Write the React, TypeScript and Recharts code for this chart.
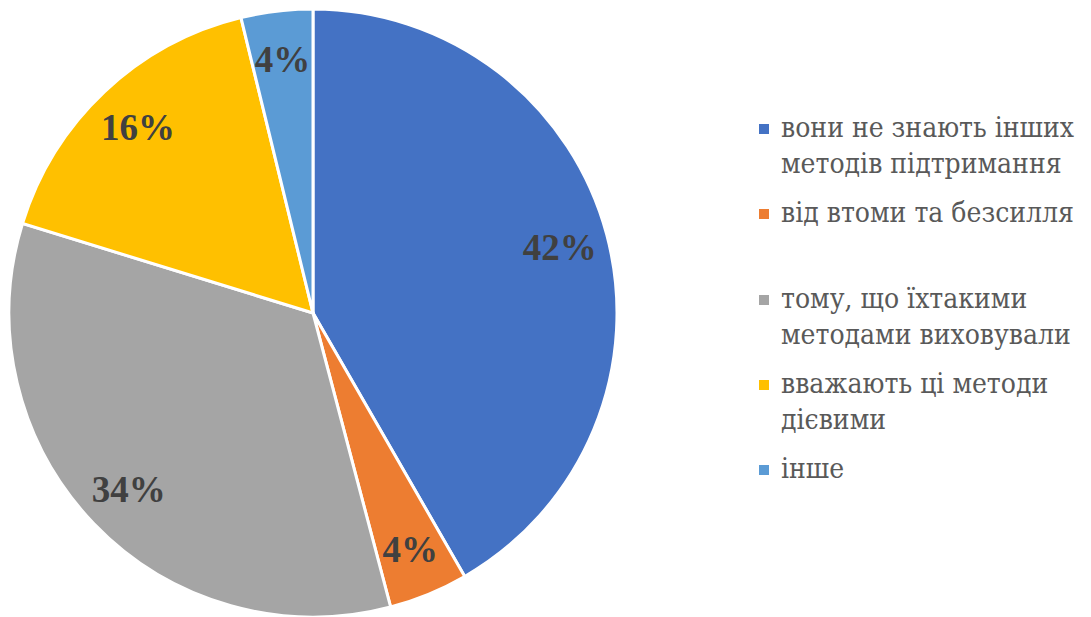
import { PieChart, Pie, Cell, Legend } from "recharts"

const reasons = [
    "вони не знають інших методів підтримання",
    "від втоми та безсилля",
    "тому, що їхтакими методами виховували",
    "вважають ці методи дієвими",
    "інше",
]
const shares = [41.6, 4.2, 33.8, 16.4, 3.8]
const colors = ["#4472C4", "#ED7D31", "#A5A5A5", "#FFC000", "#5B9BD5"]

const data = reasons.map((name, i) => ({ name, value: shares[i] }))

const RADIAN = Math.PI / 180
const serif = "'DejaVu Serif Condensed', 'DejaVu Serif', serif"

function renderLabel(props: any) {
    const { cx, cy, midAngle, outerRadius, percent } = props
    const r = outerRadius * 0.84
    const x = cx + r * Math.cos(-midAngle * RADIAN)
    const y = cy + r * Math.sin(-midAngle * RADIAN)
    return (
        <text
            x={x}
            y={y}
            fill="#404040"
            textAnchor="middle"
            dominantBaseline="central"
            style={{ fontFamily: "'Liberation Serif', serif", fontSize: 37, fontWeight: 700 }}
        >
            {Math.round(percent * 100)}%
        </text>
    )
}

function LegendList() {
    return (
        <div style={{ fontFamily: serif, fontStretch: "condensed", fontSize: 28, color: "#595959", lineHeight: "36px" }}>
            {data.map((d, i) => (
                <div
                    key={d.name}
                    style={{
                        display: "flex",
                        alignItems: "flex-start",
                        marginBottom: i === 1 ? 50 : 13,
                    }}
                >
                    <span
                        style={{
                            width: 10,
                            height: 10,
                            background: colors[i],
                            marginTop: 14,
                            marginRight: 12,
                            flexShrink: 0,
                        }}
                    />
                    <span style={{ width: 310 }}>{d.name}</span>
                </div>
            ))}
        </div>
    )
}

export default function App() {
    return (
        <div style={{ position: "absolute", left: 0, top: 0, width: 1091, height: 617, background: "#fff" }}>
            <PieChart width={1091} height={617} margin={{ top: 0, right: 0, bottom: 0, left: 0 }}>
                <Pie
                    data={data}
                    dataKey="value"
                    cx={313}
                    cy={313}
                    outerRadius={304}
                    startAngle={90}
                    endAngle={-270}
                    stroke="#ffffff"
                    strokeWidth={3}
                    label={renderLabel}
                    labelLine={false}
                    isAnimationActive={false}
                >
                    {data.map((d, i) => (
                        <Cell key={d.name} fill={colors[i]} />
                    ))}
                </Pie>
                <Legend
                    layout="vertical"
                    content={() => <LegendList />}
                    wrapperStyle={{ position: "absolute", left: 759, top: 110, width: 332 }}
                />
            </PieChart>
        </div>
    )
}
